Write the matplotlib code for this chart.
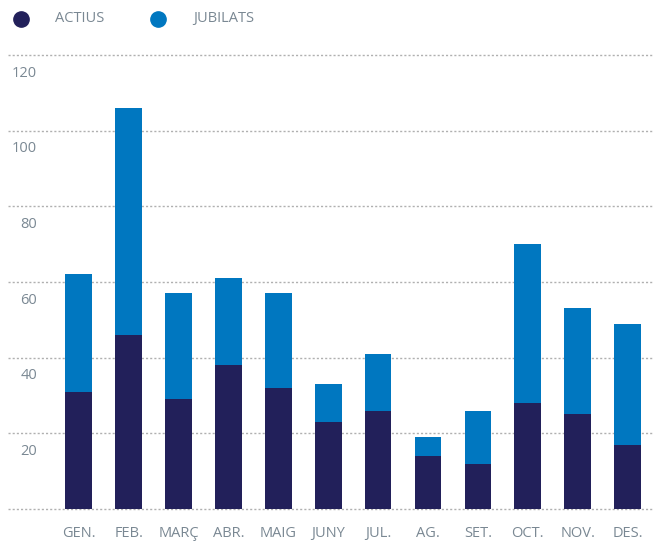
import matplotlib
matplotlib.use("Agg")
import matplotlib.pyplot as plt
from matplotlib.lines import Line2D

months = ["GEN.", "FEB.", "MARÇ", "ABR.", "MAIG", "JUNY", "JUL.", "AG.", "SET.", "OCT.", "NOV.", "DES."]
actius = [31, 46, 29, 38, 32, 23, 26, 14, 12, 28, 25, 17]
jubilats = [31, 60, 28, 23, 25, 10, 15, 5, 14, 42, 28, 32]
yticks = [20, 40, 60, 80, 100, 120]

dark = "#22205a"
blue = "#0077c0"
txt = "#7a8893"

plt.rcParams["font.family"] = ["Open Sans", "DejaVu Sans"]
fs = 10.5

fig = plt.figure(figsize=(6.54, 5.43), dpi=100)
ax = fig.add_axes([8/654, 1 - 509/543, 646/654, (509 - 55)/543])

x = list(range(len(months)))
ax.bar(x, actius, width=0.535, color=dark, zorder=2)
ax.bar(x, jubilats, width=0.535, bottom=actius, color=blue, zorder=2)

ax.set_xlim(-1.42, 11.53)
ax.set_ylim(0, 120)

# dotted grid lines, including the baseline and the top one
for v in [0] + yticks:
    ax.axhline(v, color="#b0b0b0", lw=1, ls=(0, (1.5, 1.5)), zorder=1, clip_on=False)

# y labels sit just under their grid line
for v in yticks:
    ax.text(-0.84, v - 4.8, str(v), ha="right", va="center", fontsize=fs, color=txt)

ax.set_xticks(x)
ax.set_xticklabels(months, fontsize=fs, color=txt)
ax.tick_params(axis="x", length=0, pad=12)
ax.set_yticks([])
for s in ax.spines.values():
    s.set_visible(False)

# legend drawn by hand at top left
ly = 1 - 18.5/543
fig.add_artist(Line2D([21/654], [ly], marker="o", markersize=11, color=dark, lw=0))
fig.text(55/654, ly, "ACTIUS", fontsize=fs, color=txt, va="center")
fig.add_artist(Line2D([158/654], [ly], marker="o", markersize=11, color=blue, lw=0))
fig.text(193/654, ly, "JUBILATS", fontsize=fs, color=txt, va="center")

fig.savefig("out.png", dpi=100)
